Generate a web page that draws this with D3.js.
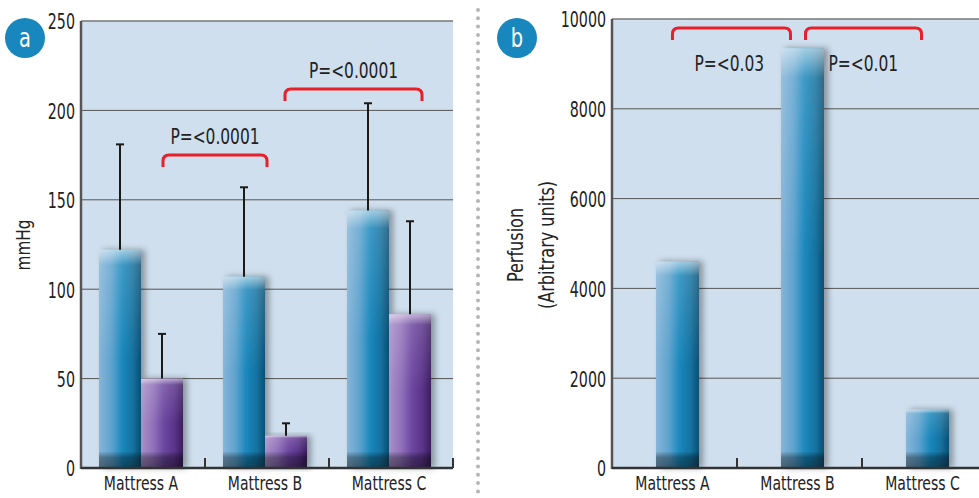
<!DOCTYPE html>
<html>
<head>
<meta charset="utf-8">
<script src="https://cdn.jsdelivr.net/npm/d3@7"></script>
<style>
  body { margin: 0; background: #fff; }
  svg text { font-family: "DejaVu Sans Condensed", "DejaVu Sans", sans-serif; fill: #222; }
</style>
</head>
<body>
<svg id="chart" width="979" height="498"></svg>
<script>
// Data
const categories = ['Mattress A', 'Mattress B', 'Mattress C'];
const pressureBlue = [122, 107, 144];
const pressureBlueErr = [59, 50, 60];
const pressurePurple = [50, 18, 86];
const pressurePurpleErr = [25, 7, 52];
const pressureTicks = [0, 50, 100, 150, 200, 250];
const pressureBrackets = [
  { from: 0, to: 1, y: 175, label: 'P=<0.0001' },
  { from: 1, to: 2, y: 212, label: 'P=<0.0001' }
];
const perfusion = [4600, 9350, 1300];
const perfusionTicks = [0, 2000, 4000, 6000, 8000, 10000];
const perfusionBrackets = [
  { from: 0, to: 1, y: 9800, label: 'P=<0.03' },
  { from: 1, to: 2, y: 9800, label: 'P=<0.01' }
];

const svg = d3.select('#chart');
const red = '#e8202a';

// squeeze text horizontally to mimic the condensed face of the original
function condense(sel, factor) {
  sel.each(function () {
    const w = this.getComputedTextLength();
    d3.select(this).attr('textLength', w * factor).attr('lengthAdjust', 'spacingAndGlyphs');
  });
}

// Gradients for the bars
const defs = svg.append('defs');
function hGrad(id, stops) {
  const g = defs.append('linearGradient').attr('id', id).attr('x1', 0).attr('x2', 1).attr('y1', 0).attr('y2', 0);
  stops.forEach(s => g.append('stop').attr('offset', s[0]).attr('stop-color', s[1]));
}
hGrad('blueH', [[0, '#86b5d9'], [0.3, '#5ea2cd'], [0.55, '#1b88bd'], [0.8, '#14729f'], [1, '#0d4f74']]);
hGrad('purpleH', [[0, '#a890c8'], [0.3, '#8f70b9'], [0.55, '#6c46a0'], [0.8, '#5a3389'], [1, '#3a1d5e']]);
const vg = defs.append('linearGradient').attr('id', 'shadeV').attr('x1', 0).attr('x2', 0).attr('y1', 0).attr('y2', 1);
vg.append('stop').attr('offset', 0).attr('stop-color', '#fff').attr('stop-opacity', 0.6);
vg.append('stop').attr('offset', 0.07).attr('stop-color', '#fff').attr('stop-opacity', 0.15);
vg.append('stop').attr('offset', 0.5).attr('stop-color', '#fff').attr('stop-opacity', 0);
const foot = defs.append('linearGradient').attr('id', 'footV').attr('x1', 0).attr('x2', 0).attr('y1', 0).attr('y2', 1);
foot.append('stop').attr('offset', 0).attr('stop-color', '#000').attr('stop-opacity', 0.05);
foot.append('stop').attr('offset', 0.35).attr('stop-color', '#000').attr('stop-opacity', 0.35);
foot.append('stop').attr('offset', 1).attr('stop-color', '#000').attr('stop-opacity', 0.45);
const shadow = defs.append('filter').attr('id', 'barShadow').attr('x', '-20%').attr('width', '160%');
shadow.append('feDropShadow').attr('dx', 4).attr('dy', 0).attr('stdDeviation', 3)
  .attr('flood-color', '#000').attr('flood-opacity', 0.35);

function drawBar(g, x, w, yTop, yBase, grad) {
  const bar = g.append('g').attr('filter', 'url(#barShadow)');
  bar.append('rect').attr('x', x).attr('y', yTop).attr('width', w).attr('height', yBase - yTop)
    .attr('fill', `url(#${grad})`);
  bar.append('rect').attr('x', x).attr('y', yTop).attr('width', w).attr('height', yBase - yTop)
    .attr('fill', 'url(#shadeV)');
  // dark foot of the bar
  bar.append('rect').attr('x', x).attr('y', yBase - 16).attr('width', w).attr('height', 16)
    .attr('fill', 'url(#footV)');
}

function drawErr(g, cx, yTop, yEnd) {
  g.append('line').attr('x1', cx).attr('x2', cx).attr('y1', yTop).attr('y2', yEnd)
    .attr('stroke', '#1a1a1a').attr('stroke-width', 2);
  g.append('line').attr('x1', cx - 4).attr('x2', cx + 4).attr('y1', yEnd).attr('y2', yEnd)
    .attr('stroke', '#1a1a1a').attr('stroke-width', 2);
}

function drawBracket(g, x1, x2, y, text, tx, ty, anchor) {
  const r = 6, leg = 12;
  g.append('path')
    .attr('d', `M${x1},${y + leg} V${y + r} Q${x1},${y} ${x1 + r},${y} H${x2 - r} Q${x2},${y} ${x2},${y + r} V${y + leg}`)
    .attr('fill', 'none').attr('stroke', red).attr('stroke-width', 3);
  g.append('text').attr('x', tx).attr('y', ty).attr('text-anchor', anchor)
    .attr('font-size', 22).text(text).call(condense, 0.78);
}

function badge(cx, cy, letter) {
  svg.append('circle').attr('cx', cx).attr('cy', cy).attr('r', 20).attr('fill', '#1787bd');
  svg.append('text').attr('x', cx).attr('y', cy + 9).attr('text-anchor', 'middle')
    .attr('font-size', 27).style('fill', '#fff').text(letter).call(condense, 0.8);
}

function panel(opts) {
  const g = svg.append('g');
  const y = d3.scaleLinear().domain(opts.domain).range([opts.bottom, opts.top]);
  const x = d3.scaleBand().domain(categories).range([opts.left, opts.right]);

  g.append('rect').attr('x', opts.left).attr('y', opts.top)
    .attr('width', opts.right - opts.left).attr('height', opts.bottom - opts.top)
    .attr('fill', '#cfdfee');
  g.append('line').attr('x1', opts.left).attr('x2', opts.right).attr('y1', opts.top).attr('y2', opts.top)
    .attr('stroke', '#777').attr('stroke-width', 1.5);

  g.append('g').selectAll('line').data(opts.ticks.slice(1, -1)).join('line')
    .attr('x1', opts.left).attr('x2', opts.right)
    .attr('y1', d => y(d)).attr('y2', d => y(d))
    .attr('stroke', '#555').attr('stroke-width', 1);

  const yAxis = g.append('g').attr('transform', `translate(${opts.left},0)`)
    .call(d3.axisLeft(y).tickValues(opts.ticks).tickFormat(d3.format('d')).tickSize(0).tickPadding(6));
  yAxis.select('.domain').remove();
  yAxis.selectAll('text').attr('font-size', 22).attr('dy', '0.36em').style('fill', '#222')
    .style('font-family', '"DejaVu Sans Condensed", "DejaVu Sans", sans-serif')
    .call(condense, 0.72);

  opts.drawBars(g, x, y);

  // axes lines
  g.append('line').attr('x1', opts.left).attr('x2', opts.left).attr('y1', opts.top).attr('y2', opts.bottom + 1)
    .attr('stroke', '#555').attr('stroke-width', 2.5);
  g.append('line').attr('x1', opts.left).attr('x2', opts.right).attr('y1', opts.bottom).attr('y2', opts.bottom)
    .attr('stroke', '#333').attr('stroke-width', 2.5);
  g.append('g').selectAll('line').data(categories).join('line')
    .attr('x1', d => x(d) + x.bandwidth()).attr('x2', d => x(d) + x.bandwidth())
    .attr('y1', opts.bottom).attr('y2', opts.bottom - 10)
    .attr('stroke', '#333').attr('stroke-width', 2);

  g.append('g').selectAll('text').data(categories).join('text')
    .attr('x', d => x(d) + x.bandwidth() / 2 + opts.labelShift)
    .attr('y', opts.bottom + 22).attr('text-anchor', 'middle').attr('font-size', 19)
    .text(d => d).call(condense, 0.82);
  return { g, x, y };
}

// Panel a
panel({
  left: 81, right: 453, top: 21, bottom: 468, domain: [0, 250], ticks: pressureTicks, labelShift: -2,
  drawBars(g, x, y) {
    const w = 42;
    categories.forEach((c, i) => {
      const cx = x(c) + x.bandwidth() / 2 - 2;
      drawBar(g, cx - w, w, y(pressureBlue[i]), y(0), 'blueH');
      drawErr(g, cx - w / 2, y(pressureBlue[i]), y(pressureBlue[i] + pressureBlueErr[i]));
      drawBar(g, cx, w, y(pressurePurple[i]), y(0), 'purpleH');
      drawErr(g, cx + w / 2, y(pressurePurple[i]), y(pressurePurple[i] + pressurePurpleErr[i]));
    });
    pressureBrackets.forEach(b => {
      const x1 = x(categories[b.from]) + x.bandwidth() / 2 + 20 + (b.from === 1 ? -2 : 0);
      const x2 = x(categories[b.to]) + x.bandwidth() / 2 + (b.to === 2 ? 31 : 0);
      const yy = y(b.y);
      drawBracket(g, x1, x2, yy, b.label, (x1 + x2) / 2, yy - 11, 'middle');
    });
  }
});

// Panel b
panel({
  left: 612, right: 987, top: 19, bottom: 468, domain: [0, 10000], ticks: perfusionTicks, labelShift: -2,
  drawBars(g, x, y) {
    const w = 43;
    categories.forEach((c, i) => {
      const cx = x(c) + x.bandwidth() / 2 + 3;
      drawBar(g, cx - w / 2, w, y(perfusion[i]), y(0), 'blueH');
    });
    const b1 = perfusionBrackets[0], b2 = perfusionBrackets[1];
    const c0 = x(categories[0]) + x.bandwidth() / 2 + 3;
    const c1 = x(categories[1]) + x.bandwidth() / 2 + 3;
    const c2 = x(categories[2]) + x.bandwidth() / 2 + 3;
    drawBracket(g, c0 - 5, c1 - 12, y(b1.y), b1.label, c0 + 17, y(b1.y) + 43, 'start');
    drawBracket(g, c1 + 3, c2 - 6, y(b2.y), b2.label, c1 + 26, y(b2.y) + 43, 'start');
  }
});

// Axis titles
svg.append('text').attr('transform', 'translate(30,245) rotate(-90)').attr('text-anchor', 'middle')
  .attr('font-size', 20).text('mmHg').call(condense, 0.85);
svg.append('text').attr('transform', 'translate(523,245) rotate(-90)').attr('text-anchor', 'middle')
  .attr('font-size', 21).text('Perfusion').call(condense, 0.85);
svg.append('text').attr('transform', 'translate(554,245) rotate(-90)').attr('text-anchor', 'middle')
  .attr('font-size', 21).text('(Arbitrary units)').call(condense, 0.85);

// Divider between the panels
svg.append('line').attr('x1', 478).attr('x2', 478).attr('y1', 10).attr('y2', 498)
  .attr('stroke', '#b5b5b5').attr('stroke-width', 4).attr('stroke-linecap', 'round')
  .attr('stroke-dasharray', '0 8.3');

badge(25, 38, 'a');
badge(517, 38, 'b');
</script>
</body>
</html>
